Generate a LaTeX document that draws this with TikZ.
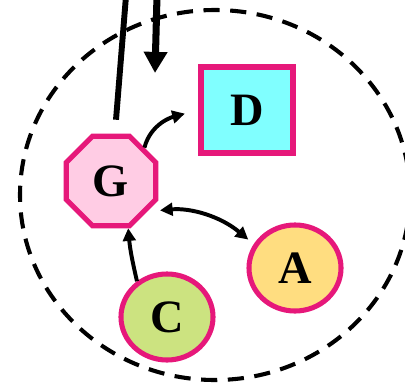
\documentclass[tikz,border=0pt]{standalone}
\usepackage{fontspec}
\setmainfont{Liberation Serif}
\usetikzlibrary{shapes.geometric}
\usetikzlibrary{arrows.meta}
\usetikzlibrary{calc}

\definecolor{rimpink}{HTML}{E6187A}
\definecolor{dfill}{HTML}{80FFFF}
\definecolor{gfill}{HTML}{FFCCE4}
\definecolor{afill}{HTML}{FFDD80}
\definecolor{cfill}{HTML}{CCE380}

\begin{document}
\begin{tikzpicture}[x=0.025cm, y=0.025cm]

\pgfmathsetmacro{\RX}{195}
\pgfmathsetmacro{\RY}{185}
\pgfmathsetmacro{\TOP}{386}

\tikzset{
  part/.style={draw=rimpink, line width=3.6pt, font=\fontsize{33}{36}\selectfont\bfseries, inner sep=0pt},
  octo/.style={part, regular polygon, regular polygon sides=8, minimum size=2.42cm},
  blob/.style={part, ellipse, minimum width=2.3cm, minimum height=2.15cm},
  tile/.style={part, rectangle, minimum width=2.3cm, minimum height=2.15cm},
  link/.style={line width=2.8pt, >={Triangle[length=9pt, width=9pt]}},
  feed/.style={line width=4.2pt},
}

\useasboundingbox (0, 0) rectangle (405, 382);

\draw [line width=2.9pt, dash pattern=on 11.5pt off 7.5pt] (215, 187) ellipse [x radius=\RX, y radius=\RY];

\node [octo, fill=gfill] (G) at (111, 201) {G};
\node [tile, fill=dfill] (D) at (247, 272) {D};
\node [blob, fill=afill] (A) at (295, 114) {A};
\node [blob, fill=cfill] (C) at (167, 65) {C};

\coordinate (in1) at (126, \TOP);
\coordinate (in2) at (157, \TOP);
\coordinate (g1) at ($(G.north) + (5, 14)$);
\coordinate (g2) at (155, 309);

\draw [feed] (g1) -- (in1);
\draw [feed, line width=5pt, -{Triangle[length=15pt, width=16pt]}] (in2) -- (g2);

\draw [link, ->, shorten >=10pt] (G.45) to [out=75, in=195] (D.west);
\draw [link, <->, shorten <=9pt, shorten >=5pt] (G.-40) to [out=5, in=140] (A.150);
\draw [link, ->] (C.130) to [out=103, in=-85] (G.-70);

\end{tikzpicture}
\end{document}
